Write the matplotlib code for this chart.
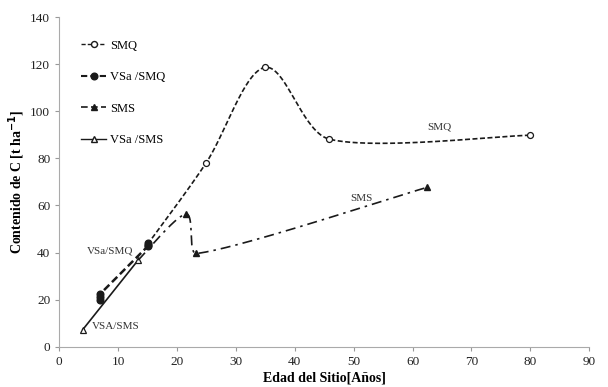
import numpy as np
import matplotlib
matplotlib.use("Agg")
import matplotlib.pyplot as plt
from matplotlib.lines import Line2D

plt.rcParams['font.family'] = ['Liberation Serif', 'DejaVu Serif']

# Data
smq_x = [15.0, 24.9, 34.9, 45.8, 79.9]
smq_y = [43.5, 77.9, 118.6, 88.2, 89.8]
vsa_smq_x = [6.9, 6.9, 6.9, 15.0, 15.0, 15.0]
vsa_smq_y = [20.0, 21.3, 22.3, 42.6, 43.4, 44.2]
sms_x = [13.4, 21.5, 23.3, 62.5]
sms_y = [36.8, 56.3, 39.6, 67.7]
vsa_sms_x = [4.0, 13.4]
vsa_sms_y = [7.3, 36.8]

x_ticks = [0, 10, 20, 30, 40, 50, 60, 70, 80, 90]
y_ticks = [0, 20, 40, 60, 80, 100, 120, 140]

XMAX, YMAX = 90.0, 140.0
SX, SY = 871.0 / XMAX, 330.0 / YMAX   # approx pixel scale, used only for smoothing shape


def smooth(xs, ys, n=60, cap=0.35):
    """Excel-like smoothed line (Catmull-Rom Bezier) through the points."""
    P = np.column_stack([np.asarray(xs) * SX, np.asarray(ys) * SY]).astype(float)
    out = [P[0]]
    m = len(P)
    for i in range(m - 1):
        p0 = P[i - 1] if i > 0 else P[i]
        p1 = P[i]
        p2 = P[i + 1]
        p3 = P[i + 2] if i + 2 < m else P[i + 1]
        chord = np.linalg.norm(p2 - p1)
        t1 = (p2 - p0) / 6.0
        t2 = (p3 - p1) / 6.0
        for t in (t1, t2):
            L = np.linalg.norm(t)
            if L > cap * chord and L > 0:
                t *= cap * chord / L
        b1 = p1 + t1
        b2 = p2 - t2
        t = np.linspace(0, 1, n)[1:, None]
        seg = ((1 - t) ** 3) * p1 + 3 * ((1 - t) ** 2) * t * b1 + 3 * (1 - t) * t ** 2 * b2 + t ** 3 * p2
        out.extend(seg)
    out = np.array(out)
    return out[:, 0] / SX, out[:, 1] / SY


fig = plt.figure(figsize=(6.08, 3.87), dpi=100)
ax = fig.add_axes([0.0975, 0.104, 0.8715, 0.852])

col = '#1a1a1a'

# VSa/SMS solid line
ax.plot(vsa_sms_x, vsa_sms_y, '-', color=col, lw=1.2, marker='^', mfc='white',
        mec=col, ms=4.8, mew=0.9, zorder=3)

# VSa/SMQ dashed thick
ax.plot(vsa_smq_x, vsa_smq_y, color=col, lw=1.8, ls=(0, (3, 1.5)), marker='o',
        mfc=col, mec=col, ms=4.8, zorder=4)

# SMS dash-dot smoothed
sx, sy = smooth(sms_x, sms_y)
ax.plot(sx, sy, color=col, lw=1.2, ls=(0, (6, 3, 1.5, 3)), zorder=3)
ax.plot(sms_x[1:], sms_y[1:], ls='none', marker='^', color=col, ms=5, zorder=4)

# SMQ dashed smoothed
qx, qy = smooth(smq_x, smq_y)
ax.plot(qx, qy, color=col, lw=1.2, ls=(0, (3, 1.5)), zorder=3)
ax.plot(smq_x[1:], smq_y[1:], ls='none', marker='o', mfc='white', mec=col,
        mew=0.9, ms=4.3, zorder=4)

# annotations
ax.text(8.6, 40.6, 'VSa/SMQ', fontsize=8, ha='center', va='center', color='#333333')
ax.text(9.6, 8.5, 'VSA/SMS', fontsize=8, ha='center', va='center', color='#333333')
ax.text(64.5, 93.4, 'SMQ', fontsize=8, ha='center', va='center', color='#333333')
ax.text(51.4, 63.0, 'SMS', fontsize=8, ha='center', va='center', color='#333333')

ax.set_xlim(0, XMAX)
ax.set_ylim(0, YMAX)
ax.set_xticks(x_ticks)
ax.set_yticks(y_ticks)
ax.tick_params(axis='both', labelsize=9.5, colors='#999999', labelcolor='#222222',
               length=3, width=0.8)
for s in ['top', 'right']:
    ax.spines[s].set_visible(False)
for s in ['left', 'bottom']:
    ax.spines[s].set_color('#aaaaaa')
    ax.spines[s].set_linewidth(0.8)

ax.set_xlabel('Edad del Sitio[Años]', fontsize=10, fontweight='bold', labelpad=3)
ax.set_ylabel('Contenido de C [t ha$^{\\mathbf{-1}}$]', fontsize=10, fontweight='bold', labelpad=2)

handles = [
    Line2D([], [], color=col, lw=1.0, ls=(0, (3, 1.5)), marker='o', mfc='white', mec=col, ms=4.3),
    Line2D([], [], color=col, lw=1.5, ls=(0, (3, 1.5)), marker='o', mfc=col, mec=col, ms=4.8),
    Line2D([], [], color=col, lw=1.2, ls=(0, (4, 2)), marker='^', mfc=col, mec=col, ms=5),
    Line2D([], [], color=col, lw=1.0, ls='-', marker='^', mfc='white', mec=col, ms=4.8),
]
labels = ['SMQ', 'VSa /SMQ', 'SMS', 'VSa /SMS']
ax.legend(handles, labels, loc='upper left', bbox_to_anchor=(0.02, 0.965), frameon=False,
          fontsize=9, labelspacing=1.55, handlelength=2.0, handletextpad=0.3)

fig.savefig('out.png', dpi=100)
